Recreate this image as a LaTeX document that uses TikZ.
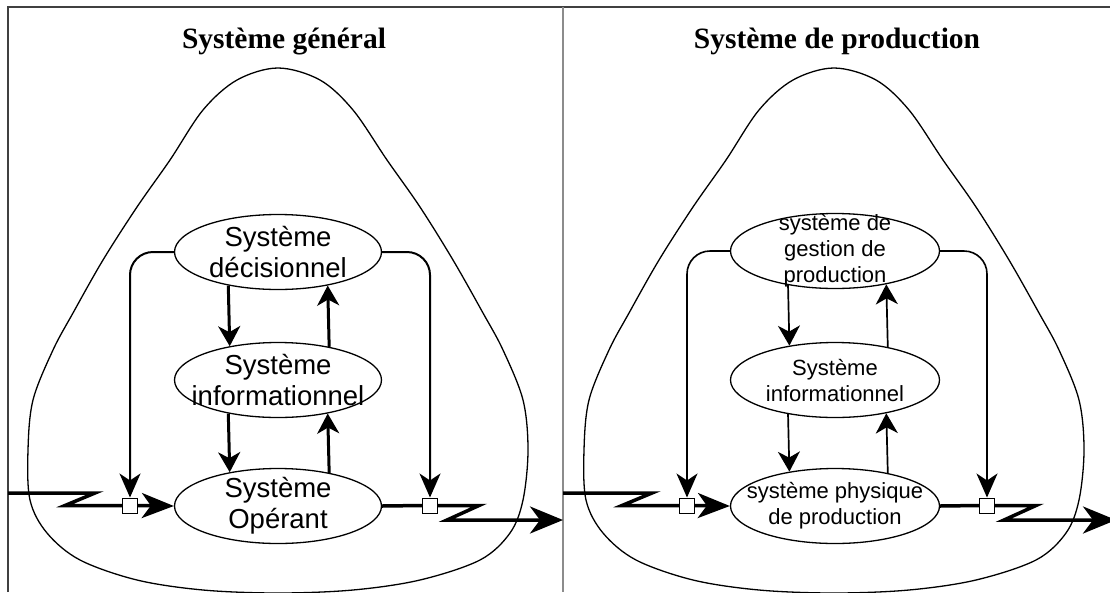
\documentclass[tikz,border=0pt]{standalone}
\usepackage{fontspec}
\setmainfont{Liberation Serif}
\setsansfont{Liberation Sans}
\usetikzlibrary{arrows.meta,shapes.geometric}

\begin{document}
\begin{tikzpicture}[x=1pt,y=-1pt,
  frame/.style={line width=1.6pt, draw=black!75},
  divider/.style={line width=1.4pt, draw=black!45},
  blob/.style={line width=1.3pt, draw=black},
  ell/.style={ellipse, draw, line width=1.3pt, minimum height=75pt, inner sep=0pt},
  lblbig/.style={font=\sffamily\fontsize{27.5}{31}\selectfont, align=center, inner sep=0pt},
  lblsmall/.style={font=\sffamily\fontsize{22}{26}\selectfont, align=center, inner sep=0pt},
  paneltitle/.style={font=\rmfamily\bfseries\fontsize{29.5}{34}\selectfont, inner sep=0pt, anchor=base},
  gate/.style={rectangle, draw, fill=white, line width=1pt, minimum size=15pt, inner sep=0pt},
  flow/.style={line width=3.5pt},
  flowin/.style={flow, -{Stealth[length=32pt,width=25pt,inset=9pt]}},
  flowout/.style={flow, -{Stealth[length=33pt,width=27pt,inset=10pt]}},
  loopA/.style={line width=2pt, rounded corners=23pt, -{Stealth[length=24pt,width=21pt,inset=7pt]}},
  loopB/.style={line width=1.6pt, rounded corners=23pt, -{Stealth[length=24pt,width=21pt,inset=7pt]}},
  innerA/.style={line width=3pt, -{Stealth[length=20pt,width=22pt,inset=6pt]}},
  innerB/.style={line width=1.7pt, -{Stealth[length=20pt,width=22pt,inset=6pt]}},
]
\useasboundingbox (0,0) rectangle (1110,592);
\fill[white] (0,0) rectangle (1110,592);

% outer frame and divider
\draw[frame] (8,592) -- (8,7) -- (1110,7);
\draw[divider] (563,7) -- (563,592);

% titles
\node[paneltitle] (titleA) at (284,48) {Système général};
\node[paneltitle] (titleB) at (837,48) {Système de production};

% the bell-shaped system boundary
\newcommand\bell{%
  \draw[blob] plot[smooth cycle, tension=0.55] coordinates {
    (278,68) (320,80) (353,110) (387,160) (420,207) (453,260) (483,313)
    (503,350) (523,400) (528,450) (523,500) (510,533) (480,560) (420,580)
    (353,590) (278,593) (203,590) (137,580) (80,560) (47,533) (30,500)
    (28,450) (33,400) (53,350) (73,313) (103,260) (137,207) (170,160)
    (203,110) (237,80)};}

% ---------- general system ----------
\begin{scope}
  \bell
  \node[ell, minimum width=207pt] (dA) at (278,252) {};
  \node[ell, minimum width=207pt] (iA) at (278,380) {};
  \node[ell, minimum width=207pt] (oA) at (278,506) {};
  \node[lblbig] (dAt) at (dA) {Système\\décisionnel};
  \node[lblbig] (iAt) at (iA) {Système\\informationnel};
  \node[lblbig] (oAt) at (oA) {Système\\Opérant};

  \node[gate] (gA1) at (130,505.5) {};
  \node[gate] (gA2) at (430,505.5) {};
  \coordinate (inA) at (8,493);
  \coordinate (outA) at (563,520);

  \draw[innerA] (dA.214.69) -- (iA.145.31);
  \draw[innerA] (iA.33.99) -- (dA.326.01);
  \draw[innerA] (iA.214.69) -- (oA.145.31);
  \draw[innerA] (oA.33.99) -- (iA.326.01);

  \draw[loopA] (dA.west) -| (gA1.north);
  \draw[loopA] (dA.east) -| (gA2.north);

  \draw[flow] (inA) -- (95,493) -- (65,505.5) -- (gA1.west);
  \draw[flowin] (gA1.east) -- (oA.west);
  \draw[flow] (oA.east) -- (gA2.west);
  \draw[flowout] (gA2.east) -- (479,505.5) -- (447,520) -- (outA);
\end{scope}

% ---------- production system ----------
\begin{scope}[xshift=556pt]
  \bell
  \node[ell, minimum width=209pt] (dB) at (279,251) {};
  \node[ell, minimum width=209pt] (iB) at (279,380) {};
  \node[ell, minimum width=209pt] (oB) at (279,506) {};
  \node[lblsmall] (dBt) at (dB) {système de\\gestion de\\production};
  \node[lblsmall] (iBt) at (iB) {Système\\informationnel};
  \node[lblsmall] (oBt) at (oB) {système physique\\de production};

  \node[gate] (gB1) at (131,505.5) {};
  \node[gate] (gB2) at (431,505.5) {};
  \coordinate (inB) at (7,493);
  \coordinate (outB) at (560,520);

  \draw[innerB] (dB.216.95) -- (iB.143.05);
  \draw[innerB] (iB.32.69) -- (dB.327.31);
  \draw[innerB] (iB.216.95) -- (oB.143.05);
  \draw[innerB] (oB.32.69) -- (iB.327.31);

  \draw[loopB] (dB.west) -| (gB1.north);
  \draw[loopB] (dB.east) -| (gB2.north);

  \draw[flow] (inB) -- (96,493) -- (66,505.5) -- (gB1.west);
  \draw[flowin] (gB1.east) -- (oB.west);
  \draw[flow] (oB.east) -- (gB2.west);
  \draw[flowout] (gB2.east) -- (480,505.5) -- (448,520) -- (outB);
\end{scope}
\end{tikzpicture}
\end{document}
